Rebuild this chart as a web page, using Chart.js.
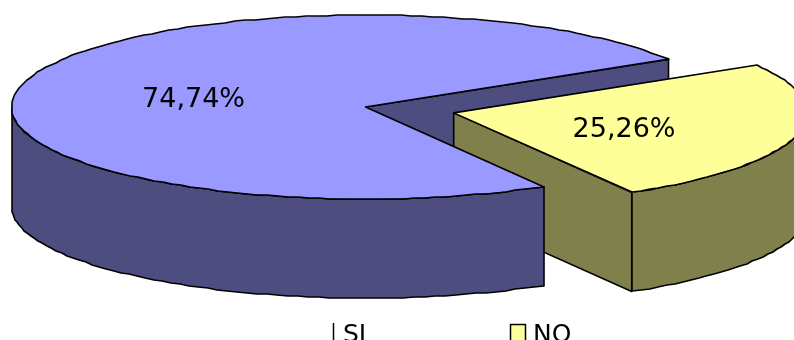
<!DOCTYPE html>
<html lang="es">
<head>
  <meta charset="UTF-8">
  <title>SI / NO</title>
  <script src="https://cdn.jsdelivr.net/npm/chart.js"></script>
  <style>
    html, body { margin: 0; padding: 0; background: #fff; overflow: hidden; }
    #frame { width: 794px; height: 340px; overflow: hidden; }
    canvas { display: block; }
  </style>
</head>
<body>
  <!-- canvas is oversized so the full radius fits before the disc is squashed -->
  <div id="frame"><canvas id="pie" width="1200" height="1200"></canvas></div>

  <script>
const categories = ["SI", "NO"];
const values = [74.74, 25.26];
const valueLabels = ["74,74%", "25,26%"];
const topColors = ["#9999FF", "#FFFF99"];
const sideColors = ["#4D4D80", "#80804D"];

const PIE_X = 365.5;  // where the pie centre lands on the page
const PIE_Y = 107;
const TILT = 0.26;    // vertical squash of the disc
const DEPTH = 99;     // height of the side walls
const LABEL_FONT = "27px 'DejaVu Sans'";
const LEGEND_FONT = "25px 'DejaVu Sans'";

// page position of a rim point (or the apex with r = 0) of a slice
function rimPoint(arc, r, angle) {
  const mid = (arc.startAngle + arc.endAngle) / 2;
  const shift = (arc.options.offset || 0) / 4;
  return {
    x: PIE_X + Math.cos(mid) * shift + Math.cos(angle) * r,
    y: PIE_Y + (Math.sin(mid) * shift + Math.sin(angle) * r) * TILT
  };
}

// rim as short straight pieces snapped to whole pixels, gives the faceted edge
function rimPath(ctx, arc, from, to, drop) {
  const steps = Math.ceil(Math.abs(to - from) / 0.03);
  for (let i = 0; i <= steps; i++) {
    const p = rimPoint(arc, arc.outerRadius, from + (to - from) * i / steps);
    ctx.lineTo(Math.round(p.x), Math.round(p.y + drop));
  }
}

function paint(ctx, fill) {
  ctx.lineWidth = 1.6;
  ctx.lineJoin = "round";
  ctx.strokeStyle = "#000";
  if (fill) {
    ctx.fillStyle = fill;
    ctx.fill();
  }
  ctx.stroke();
}

// flat wall running from the apex out to the rim at the given angle
function cutWall(ctx, arc, angle, color) {
  const a = rimPoint(arc, 0, angle);
  const b = rimPoint(arc, arc.outerRadius, angle);
  ctx.beginPath();
  ctx.moveTo(a.x, a.y);
  ctx.lineTo(b.x, b.y);
  ctx.lineTo(b.x, b.y + DEPTH);
  ctx.lineTo(a.x, a.y + DEPTH);
  ctx.closePath();
  paint(ctx, color);
}

// curved wall under the front part of the rim
function outerWall(ctx, arc, from, to, color) {
  ctx.beginPath();
  rimPath(ctx, arc, from, to, 0);
  rimPath(ctx, arc, to, from, DEPTH);
  ctx.closePath();
  paint(ctx, color);
}

const tiltedPie = {
  id: "tiltedPie",
  beforeDatasetsDraw(chart) {
    const ctx = chart.ctx;
    const [si, no] = chart.getDatasetMeta(0).data;

    // back to front, the tops go on afterwards
    cutWall(ctx, si, si.endAngle, sideColors[0]);
    cutWall(ctx, no, no.endAngle, sideColors[1]);
    outerWall(ctx, no, 2 * Math.PI, no.endAngle, sideColors[1]);
    outerWall(ctx, si, si.startAngle, Math.PI, sideColors[0]);

    ctx.save();
    ctx.translate(PIE_X, PIE_Y);
    ctx.scale(1, TILT);
    ctx.translate(-si.x, -si.y);
  },
  afterDatasetsDraw(chart) {
    const ctx = chart.ctx;
    ctx.restore();

    // outlines are stroked unscaled so the pen stays even
    chart.getDatasetMeta(0).data.forEach(arc => {
      const apex = rimPoint(arc, 0, 0);
      ctx.beginPath();
      ctx.moveTo(apex.x, apex.y);
      rimPath(ctx, arc, arc.startAngle, arc.endAngle, 0);
      ctx.closePath();
      paint(ctx);
    });

    ctx.fillStyle = "#000";
    ctx.textAlign = "center";
    ctx.textBaseline = "alphabetic";
    ctx.font = LABEL_FONT;
    ctx.fillText(valueLabels[0], 193.5, 107);
    ctx.fillText(valueLabels[1], 624, 137);

    // legend, cut off by the bottom of the page
    ctx.textAlign = "left";
    ctx.font = LEGEND_FONT;
    ctx.fillText(categories[0], 343, 342);
    ctx.fillText(categories[1], 533, 342);
    ctx.lineWidth = 1.5;
    ctx.strokeStyle = "#000";
    ctx.beginPath();
    ctx.moveTo(333.5, 323);
    ctx.lineTo(333.5, 340);
    ctx.stroke();
    ctx.fillStyle = topColors[1];
    ctx.fillRect(510.5, 324.5, 15, 18);
    ctx.strokeRect(510.5, 324.5, 15, 18);
  }
};

new Chart(document.getElementById("pie"), {
  type: "pie",
  data: {
    labels: categories,
    datasets: [{
      data: values,
      backgroundColor: topColors,
      borderWidth: 0,
      offset: [0, 364],
      clip: false
    }]
  },
  options: {
    responsive: false,
    animation: false,
    rotation: 149.8,
    radius: 354,
    events: [],
    plugins: {
      legend: { display: false },
      tooltip: { enabled: false }
    }
  },
  plugins: [tiltedPie]
});
  </script>
</body>
</html>
